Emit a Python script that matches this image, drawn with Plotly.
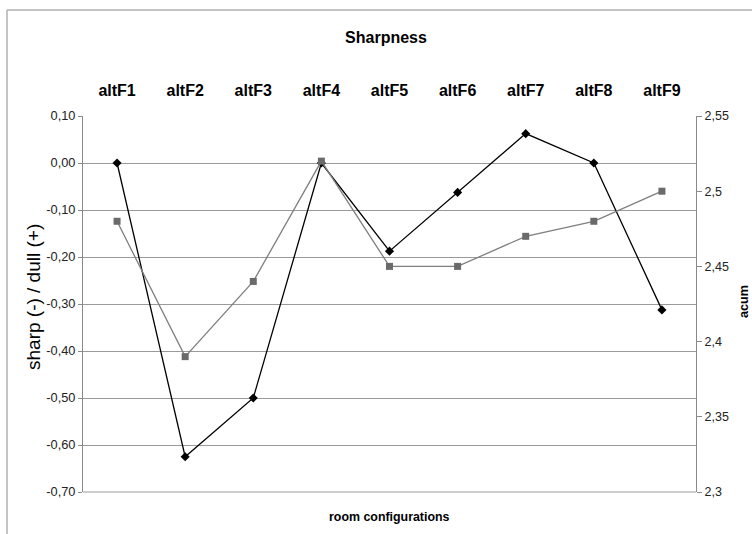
import plotly.graph_objects as go

categories = ["altF1", "altF2", "altF3", "altF4", "altF5", "altF6", "altF7", "altF8", "altF9"]
sharp_dull = [0.0, -0.625, -0.5, 0.0, -0.1875, -0.0625, 0.0625, 0.0, -0.3125]
acum = [2.48, 2.39, 2.44, 2.52, 2.45, 2.45, 2.47, 2.48, 2.50]

left_ticks = [-0.7, -0.6, -0.5, -0.4, -0.3, -0.2, -0.1, 0.0, 0.1]
left_labels = ["-0,70", "-0,60", "-0,50", "-0,40", "-0,30", "-0,20", "-0,10", "0,00", "0,10"]
right_ticks = [2.3, 2.35, 2.4, 2.45, 2.5, 2.55]
right_labels = ["2,3", "2,35", "2,4", "2,45", "2,5", "2,55"]

FONT = "Liberation Sans, Arial, sans-serif"

fig = go.Figure()
fig.add_trace(go.Scatter(
    x=categories, y=sharp_dull, mode="lines+markers", name="sharp/dull",
    line=dict(color="#000000", width=1.3),
    marker=dict(symbol="diamond", size=7, color="#000000"),
    yaxis="y"))
fig.add_trace(go.Scatter(
    x=categories, y=acum, mode="lines+markers", name="acum",
    line=dict(color="#7f7f7f", width=1.3),
    marker=dict(symbol="square", size=7, color="#6a6a6a"),
    yaxis="y2"))

L, R, T, B = 83, 56, 116, 42
W, H = 752, 534
pw, ph = W - L - R, H - T - B

def px_x(p):
    return (p - L) / pw

def px_y(p):
    return (H - B - p) / ph

fig.update_layout(
    width=W, height=H,
    margin=dict(l=L, r=R, t=T, b=B),
    paper_bgcolor="white", plot_bgcolor="white",
    showlegend=False,
    font=dict(family=FONT, color="#000000", size=12),
    title=dict(text="<b>Sharpness</b>", x=px_x(386), xref="paper", xanchor="center",
               y=1 - 37 / H, yanchor="middle", font=dict(size=16, family=FONT)),
    xaxis=dict(type="category", side="top", range=[-0.5, 8.5],
               showgrid=False, showline=False, ticks="", zeroline=False,
               tickfont=dict(size=16, family=FONT), ticklabelstandoff=16,
               tickprefix="<b>", ticksuffix="</b>"),
    yaxis=dict(range=[-0.7, 0.1], tickvals=left_ticks, ticktext=left_labels,
               showgrid=True, gridcolor="#9a9a9a", gridwidth=1, zeroline=False,
               showline=True, linecolor="#8a8a8a", linewidth=1,
               ticks="outside", ticklen=4, tickcolor="#8a8a8a",
               tickfont=dict(size=12.8, family=FONT, color="#222222")),
    yaxis2=dict(range=[2.3, 2.55], tickvals=right_ticks, ticktext=right_labels,
                overlaying="y", side="right", showgrid=False, zeroline=False,
                showline=True, linecolor="#8a8a8a", linewidth=1,
                ticks="outside", ticklen=5, tickcolor="#8a8a8a",
                tickfont=dict(size=12.5, family=FONT, color="#222222")),
    annotations=[
        dict(text="sharp (-) / dull (+)", xref="paper", yref="paper",
             x=px_x(33), y=px_y(297), textangle=-90, showarrow=False,
             xanchor="center", yanchor="middle", font=dict(size=19, family=FONT)),
        dict(text="<b>acum</b>", xref="paper", yref="paper",
             x=px_x(744), y=px_y(302), textangle=-90, showarrow=False,
             xanchor="center", yanchor="middle", font=dict(size=12.6, family=FONT)),
        dict(text="<b>room configurations</b>", xref="paper", yref="paper",
             x=px_x(390), y=px_y(517), showarrow=False,
             xanchor="center", yanchor="middle", font=dict(size=12.4, family=FONT)),
    ],
    shapes=[
        dict(type="line", xref="paper", yref="paper", x0=px_x(7), x1=px_x(760),
             y0=px_y(10), y1=px_y(10), line=dict(color="#b0b0b0", width=1.5)),
        dict(type="line", xref="paper", yref="paper", x0=px_x(7), x1=px_x(7),
             y0=px_y(10), y1=px_y(540), line=dict(color="#b0b0b0", width=1.5)),
        dict(type="line", xref="paper", yref="paper", x0=0, x1=1,
             y0=0, y1=0, line=dict(color="#9a9a9a", width=1), layer="below"),
    ],
)

fig.write_html("out.html", config={"displayModeBar": False},
               post_script="document.body.style.margin='0px';")
